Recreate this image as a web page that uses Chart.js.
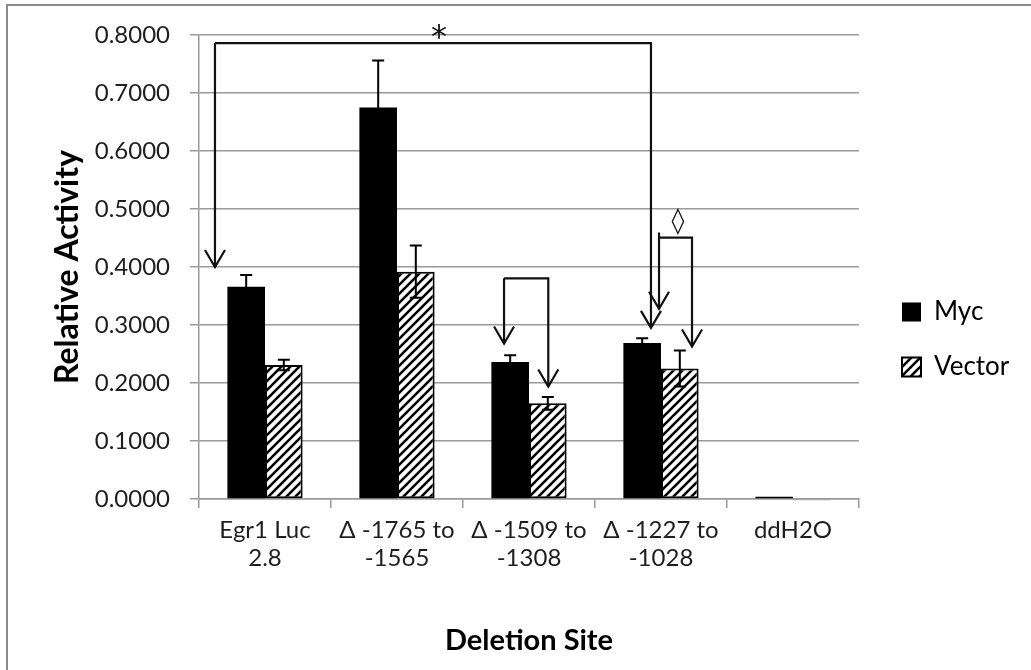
<!DOCTYPE html>
<html>
<head>
<meta charset="utf-8">
<title>Relative Activity by Deletion Site</title>
<script src="https://cdn.jsdelivr.net/npm/chart.js@4.4.0/dist/chart.umd.min.js"></script>
<style>
  html, body { margin: 0; padding: 0; background: #fff; }
  #wrap { position: relative; width: 1031px; height: 670px; overflow: hidden; }
  #frame { position: absolute; left: 6px; top: 4px; width: 1060px; height: 700px; border: 2px solid #8a8a8a; box-sizing: border-box; }
  #wrap canvas { position: absolute; left: 0; top: 0; }
</style>
</head>
<body>
<div id="wrap">
  <div id="frame"></div>
  <canvas id="activityChart"></canvas>
</div>
<script>
const sites = [['Egr1 Luc', '2.8'], ['\u0394 -1765 to', '-1565'], ['\u0394 -1509 to', '-1308'], ['\u0394 -1227 to', '-1028'], 'ddH2O'];
const myc = [0.366, 0.675, 0.236, 0.269, 0.004];
const vector = [0.231, 0.392, 0.165, 0.225, -0.002];
const mycErr = [0.020, 0.081, 0.012, 0.008, 0];
const vectorErr = [0.009, 0.045, 0.011, 0.031, 0];
const yMin = 0, yMax = 0.8, yStep = 0.1;

// significance brackets, x in category units, y in activity units
const brackets = [
  { x: [-0.379, 2.924], top: 0.786, tips: [0.400, 0.295], over: 0 },
  { x: [1.811, 2.146], top: 0.3805, tips: [0.268, 0.194], over: 0 },
  { x: [2.985, 3.235], top: 0.4505, tips: [0.328, 0.263], over: 0.009 }
];
const marks = [
  { text: '*', x: 1.318, y: 0.793, size: 32 },
  { text: '\u25CA', x: 3.129, y: 0.478, size: 26 }
];

const FONT = 'Lato, "Liberation Sans", sans-serif';

function hatchPattern() {
  const c = document.createElement('canvas');
  c.width = c.height = 9;
  const g = c.getContext('2d');
  g.fillStyle = '#fff';
  g.fillRect(0, 0, 9, 9);
  g.strokeStyle = '#000';
  g.lineWidth = 2.6;
  g.beginPath();
  g.moveTo(-1, 10); g.lineTo(10, -1);
  g.moveTo(-1, 1); g.lineTo(1, -1);
  g.moveTo(8, 10); g.lineTo(10, 8);
  g.stroke();
  return g.createPattern(c, 'repeat');
}

function arrowHead(ctx, x, yTip) {
  ctx.beginPath();
  ctx.moveTo(x - 10, yTip - 17);
  ctx.lineTo(x, yTip);
  ctx.lineTo(x + 10, yTip - 17);
  ctx.stroke();
}

const overlay = {
  id: 'overlay',
  afterLayout(chart) {
    // sit the legend further right and a bit higher, with room for the labels
    const lg = chart.legend;
    lg.left += 14;
    lg.right = chart.width;
    lg.top -= 13; lg.bottom -= 13;
  },
  afterDatasetsDraw(chart) {
    const { ctx, scales: { x, y } } = chart;
    ctx.save();
    ctx.strokeStyle = '#000';
    ctx.lineWidth = 2;

    // error bars
    chart.data.datasets.forEach((ds, i) => {
      chart.getDatasetMeta(i).data.forEach((bar, j) => {
        const e = ds.errors[j];
        if (!e) return;
        const hi = y.getPixelForValue(ds.data[j] + e);
        const lo = y.getPixelForValue(ds.data[j] - e);
        ctx.beginPath();
        ctx.moveTo(bar.x, hi); ctx.lineTo(bar.x, lo);
        ctx.moveTo(bar.x - 6, hi); ctx.lineTo(bar.x + 6, hi);
        ctx.moveTo(bar.x - 6, lo); ctx.lineTo(bar.x + 6, lo);
        ctx.stroke();
      });
    });

    // brackets with arrows
    ctx.strokeStyle = '#111';
    ctx.lineWidth = 2.2;
    brackets.forEach(b => {
      const xl = x.getPixelForValue(b.x[0]);
      const xr = x.getPixelForValue(b.x[1]);
      const top = y.getPixelForValue(b.top);
      const tl = y.getPixelForValue(b.tips[0]);
      const tr = y.getPixelForValue(b.tips[1]);
      ctx.beginPath();
      ctx.moveTo(xl, tl);
      ctx.lineTo(xl, y.getPixelForValue(b.top + b.over));
      ctx.moveTo(xl, top);
      ctx.lineTo(xr, top);
      ctx.lineTo(xr, tr);
      ctx.stroke();
      arrowHead(ctx, xl, tl);
      arrowHead(ctx, xr, tr);
    });

    ctx.fillStyle = '#111';
    ctx.textAlign = 'center';
    ctx.textBaseline = 'middle';
    marks.forEach(m => {
      ctx.font = m.size + 'px "DejaVu Sans", sans-serif';
      ctx.fillText(m.text, x.getPixelForValue(m.x), y.getPixelForValue(m.y));
    });
    ctx.restore();
  }
};

const hatch = hatchPattern();

new Chart(document.getElementById('activityChart'), {
  type: 'bar',
  data: {
    labels: sites,
    datasets: [
      {
        label: 'Myc',
        data: myc,
        errors: mycErr,
        backgroundColor: '#000',
        borderColor: '#000',
        borderWidth: 0
      },
      {
        label: 'Vector',
        data: vector,
        errors: vectorErr,
        backgroundColor: hatch,
        borderColor: '#000',
        borderWidth: 2,
        borderSkipped: false
      }
    ]
  },
  options: {
    responsive: true,
    maintainAspectRatio: false,
    animation: false,
    events: [],
    layout: { padding: { top: 35, left: 0, right: 42, bottom: 0 } },
    datasets: { bar: { categoryPercentage: 0.57, barPercentage: 1, clip: false } },
    scales: {
      x: {
        afterFit: s => { s.height = 171; },
        grid: { display: true, drawOnChartArea: false, offset: true, tickLength: 9, color: '#9a9a9a', lineWidth: 1.5 },
        border: { color: '#9a9a9a', width: 1.5 },
        ticks: {
          color: '#1e1e1e',
          font: { family: FONT, size: 24, lineHeight: 1.17 },
          padding: 8,
          maxRotation: 0,
          autoSkip: false
        },
        title: {
          display: true,
          text: 'Deletion Site',
          color: '#000',
          font: { family: FONT, size: 29, weight: 'bold' },
          padding: { bottom: 12 }
        }
      },
      y: {
        min: yMin,
        max: yMax,
        afterFit: s => { s.width = 199; },
        grid: { color: '#9a9a9a', lineWidth: 1.5, tickLength: 9 },
        border: { color: '#9a9a9a', width: 1.5 },
        ticks: {
          stepSize: yStep,
          color: '#1e1e1e',
          font: { family: FONT, size: 24 },
          padding: 20,
          callback: v => v.toFixed(4)
        },
        title: {
          display: true,
          text: 'Relative Activity',
          color: '#000',
          font: { family: FONT, size: 32, weight: 'bold' },
          padding: { top: 48 }
        }
      }
    },
    plugins: {
      legend: {
        position: 'right',
        align: 'center',
        maxWidth: 130,
        labels: {
          boxWidth: 19,
          boxHeight: 19,
          padding: 29,
          color: '#000',
          font: { family: FONT, size: 26 }
        }
      },
      tooltip: { enabled: false }
    }
  },
  plugins: [overlay]
});
</script>
</body>
</html>
